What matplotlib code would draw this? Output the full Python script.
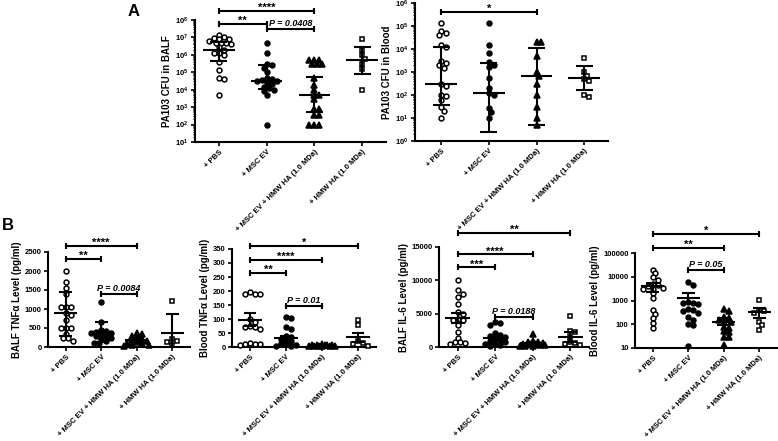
import numpy as np
import matplotlib
matplotlib.use("Agg")
import matplotlib.pyplot as plt
from matplotlib.ticker import LogLocator, NullLocator, NullFormatter

plt.rcParams['font.family'] = ['Liberation Sans', 'DejaVu Sans']
plt.rcParams['font.weight'] = 'bold'
plt.rcParams['axes.linewidth'] = 1.5

groups = ['+ PBS', '+ MSC EV', '+ MSC EV + HMW HA (1.0 MDa)', '+ HMW HA (1.0 MDa)']

# --- Panel A, PA103 CFU in BALF (median + IQR)
balf_cfu_pbs = [1.4e7, 1e7, 9e6, 8e6, 8e6, 6e6, 5e6, 5e6, 5e6, 4e6, 3e6, 2e6, 1.3e6, 1.2e6, 1e6, 4e5, 1.3e5, 5e4, 4e4, 5e3]
balf_cfu_ev = [5e6, 1.3e6, 3e5, 2.5e5, 1.8e5, 1e5, 5e4, 4e4, 3.5e4, 3e4, 3e4, 2.5e4, 2e4, 1.5e4, 1.2e4, 1e4, 8e3, 5e3, 1e2]
balf_cfu_evha = [5e5, 5e5, 5e5, 3e5, 3e5, 3e5, 5e4, 1.8e4, 1e4, 5e3, 5e3, 2.8e3, 8e2, 8e2, 3.5e2, 3.5e2, 1e2, 1e2, 1e2]
balf_cfu_ha = [8e6, 2e6, 1e6, 6e5, 3e5, 1.5e5, 1e4]
balf_cfu_mid = [2e6, 3.2e4, 4.9e3, 5e5]
balf_cfu_lo = [4.5e5, 1.05e4, 5.4e2, 8e4]
balf_cfu_hi = [5.5e6, 2.6e5, 5.5e4, 3e6]

# --- Panel A, PA103 CFU in Blood (median + IQR)
blood_cfu_pbs = [1.3e5, 6e4, 5e4, 4e4, 1.5e4, 1.2e4, 3e3, 2.5e3, 2e3, 1.5e3, 300, 250, 100, 90, 60, 30, 20, 10]
blood_cfu_ev = [1.3e5, 1.5e4, 7e3, 2.7e3, 2e3, 1.6e3, 550, 200, 120, 100, 27, 18, 10]
blood_cfu_evha = [2e4, 2e4, 5e3, 1e3, 700, 300, 100, 30, 10, 5]
blood_cfu_ha = [4e3, 1e3, 700, 500, 400, 100, 80]
blood_cfu_mid = [300, 120, 680, 550]
blood_cfu_lo = [37, 2.5, 5, 160]
blood_cfu_hi = [1.27e4, 2.4e3, 1.1e4, 1.8e3]

# --- Panel B, BALF TNFa (mean +/- error)
balf_tnf_pbs = [2000, 1700, 1550, 1400, 1050, 1050, 1050, 900, 850, 700, 500, 500, 500, 350, 250, 250, 170]
balf_tnf_ev = [1190, 650, 450, 420, 400, 380, 370, 350, 300, 280, 250, 200, 150, 100, 100]
balf_tnf_evha = [380, 350, 300, 250, 200, 180, 150, 120, 100, 80, 50, 40, 30]
balf_tnf_ha = [1220, 200, 150, 140, 50]
balf_tnf_mid = [885, 400, 185, 376]
balf_tnf_lo = [290, 120, 120, -120]
balf_tnf_hi = [1455, 665, 250, 870]

# --- Panel B, Blood TNFa
blood_tnf_pbs = [195, 190, 190, 188, 100, 90, 75, 70, 70, 65, 15, 12, 10, 10, 8]
blood_tnf_ev = [107, 105, 70, 65, 40, 35, 30, 25, 20, 15, 10, 8, 5, 5]
blood_tnf_evha = [10, 8, 8, 7, 6, 6, 5, 5, 5, 5, 4, 4]
blood_tnf_ha = [96, 80, 20, 15, 10, 5]
blood_tnf_mid = [96, 33, 6, 36]
blood_tnf_lo = [75, 25, 4, 18]
blood_tnf_hi = [121, 41, 8, 50]

# --- Panel B, BALF IL-6
balf_il6_pbs = [10000, 8500, 8000, 7500, 6500, 5200, 5000, 4200, 4000, 4000, 3300, 2300, 1400, 800, 700, 600, 500]
balf_il6_ev = [3800, 3600, 3300, 2100, 1800, 1600, 1500, 1200, 1000, 900, 800, 500, 400, 300, 200]
balf_il6_evha = [1950, 900, 800, 700, 600, 500, 500, 400, 300, 300, 200, 200, 100]
balf_il6_ha = [4600, 2400, 2300, 1500, 700, 600, 500, 300]
balf_il6_mid = [4380, 1390, 640, 1450]
balf_il6_lo = [3630, 1050, 480, 790]
balf_il6_hi = [5120, 1700, 800, 2280]

# --- Panel B, Blood IL-6
blood_il6_pbs = [19500, 14000, 9600, 7000, 5000, 4500, 4000, 3500, 3200, 3000, 2000, 1300, 400, 270, 185, 110, 70]
blood_il6_ev = [6300, 4600, 900, 800, 800, 700, 450, 400, 350, 300, 200, 150, 100, 90, 12]
blood_il6_evha = [450, 350, 200, 180, 150, 130, 120, 80, 70, 50, 45, 30, 28, 13]
blood_il6_ha = [1100, 400, 350, 300, 130, 90, 60]
blood_il6_mid = [4100, 1250, 128, 340]
blood_il6_lo = [2200, 760, 93, 180]
blood_il6_hi = [5300, 2000, 180, 470]

# marker per group: (marker, filled)
styles = [('o', False), ('o', True), ('^', True), ('s', False)]


def swarm_x(ax, i, vals, size=4.2, maxw=15):
    # deterministic beeswarm in pixel space, kept inside +/- maxw px
    xy = ax.transData.transform(np.column_stack([np.full(len(vals), i), vals]))
    x0 = xy[0, 0]
    ys = xy[:, 1]
    xs = np.zeros(len(vals))
    placed = []
    step = size * 0.6
    offs = [0]
    k = 1
    while k * step <= maxw:
        offs += [k, -k]
        k += 1
    for k in np.argsort(-ys):
        y = ys[k]
        best, bestd = 0, -1
        for o in offs:
            x = x0 + o * step
            d = min([np.hypot(x - px, y - py) for px, py in placed] or [99])
            if d >= size:
                best = x
                break
            if d > bestd:
                best, bestd = x, d
        placed.append((best, y))
        xs[k] = best
    return ax.transData.inverted().transform(np.column_stack([xs, ys]))[:, 0]


def panel(rect, data, mid, lo, hi, ylabel, ylim, log=False, ticks=None, ticklabels=None):
    ax = fig.add_axes(rect)
    if log:
        ax.set_yscale('log')
    ax.set_xlim(-0.5, 3.5)
    ax.set_ylim(*ylim)
    for s in ['top', 'right']:
        ax.spines[s].set_visible(False)
    for i, vals in enumerate(data):
        m, filled = styles[i]
        xs = swarm_x(ax, i, vals)
        ax.plot(xs, vals, ls='none', marker=m, ms=3.5 if m != '^' else 3.9,
                mfc='black' if filled else 'white', mec='black', mew=1.1, clip_on=False, zorder=3)
        ax.hlines(mid[i], i - 0.33, i + 0.33, color='black', lw=1.5, zorder=4)
        ax.vlines(i, lo[i], hi[i], color='black', lw=1.5, zorder=4)
        ax.hlines([lo[i], hi[i]], i - 0.18, i + 0.18, color='black', lw=1.5, zorder=4)
    ax.set_xticks(range(4))
    ax.set_xticklabels(groups, rotation=45, ha='right', rotation_mode='anchor', fontsize=5.5, fontweight='bold')
    if ticks is not None:
        ax.set_yticks(ticks)
        ax.set_yticklabels(ticklabels)
        ax.yaxis.set_minor_locator(NullLocator())
    elif log:
        ax.yaxis.set_major_locator(LogLocator(base=10, numticks=12))
        ax.yaxis.set_minor_locator(LogLocator(base=10, subs=np.arange(2, 10), numticks=12))
        ax.yaxis.set_minor_formatter(NullFormatter())
    ax.tick_params(axis='both', which='major', length=3, width=1.2, labelsize=5.5, pad=1.5)
    ax.tick_params(axis='y', which='minor', length=1.5, width=0.8)
    ax.set_ylabel(ylabel, fontsize=7, fontweight='bold', labelpad=2)
    return ax


def sig(ax, x1, x2, y, text, p=False):
    ax.plot([x1, x2], [y, y], color='black', lw=1.5, marker='|', ms=5, mew=1.5, clip_on=False, zorder=5)
    ax.annotate(text, xy=((x1 + x2) / 2, y), xytext=(0, 0.5 if p else -1.5), textcoords='offset points',
                ha='center', va='bottom', fontsize=6.5 if p else 8, fontweight='bold',
                fontstyle='italic' if p else 'normal', annotation_clip=False)


fig = plt.figure(figsize=(7.78, 4.41), dpi=100)
W, H = 778.0, 441.0


def rect(l, r, t, b):
    return [l / W, 1 - b / H, (r - l) / W, (b - t) / H]


a1 = panel(rect(195, 386, 20, 142), [balf_cfu_pbs, balf_cfu_ev, balf_cfu_evha, balf_cfu_ha],
           balf_cfu_mid, balf_cfu_lo, balf_cfu_hi, 'PA103 CFU in BALF', (1e1, 1e8), log=True)
sig(a1, 0, 2, 3.4e8, '****')
sig(a1, 0, 1, 5.9e7, '**')
sig(a1, 1, 2, 3.0e7, 'P = 0.0408', p=True)

a2 = panel(rect(415, 608, 3, 141), [blood_cfu_pbs, blood_cfu_ev, blood_cfu_evha, blood_cfu_ha],
           blood_cfu_mid, blood_cfu_lo, blood_cfu_hi, 'PA103 CFU in Blood', (1e0, 1e6), log=True)
a2.set_xlim(-0.55, 3.5)
sig(a2, 0, 2, 4.1e5, '*')

b1 = panel(rect(48, 190, 252, 347), [balf_tnf_pbs, balf_tnf_ev, balf_tnf_evha, balf_tnf_ha],
           balf_tnf_mid, balf_tnf_lo, balf_tnf_hi, 'BALF TNF\u03b1 Level (pg/ml)', (0, 2500),
           ticks=[0, 500, 1000, 1500, 2000, 2500], ticklabels=['0', '500', '1000', '1500', '2000', '2500'])
sig(b1, 0, 2, 2658, '****')
sig(b1, 0, 1, 2316, '**')
sig(b1, 1, 2, 1395, 'P = 0.0084', p=True)

b2 = panel(rect(232, 376, 249, 347), [blood_tnf_pbs, blood_tnf_ev, blood_tnf_evha, blood_tnf_ha],
           blood_tnf_mid, blood_tnf_lo, blood_tnf_hi, 'Blood TNF\u03b1 Level (pg/ml)', (0, 350),
           ticks=list(range(0, 351, 50)), ticklabels=[str(v) for v in range(0, 351, 50)])
sig(b2, 0, 3, 361, '*')
sig(b2, 0, 2, 311, '****')
sig(b2, 0, 1, 264, '**')
sig(b2, 1, 2, 146, 'P = 0.01', p=True)

b3 = panel(rect(439, 589, 247, 347), [balf_il6_pbs, balf_il6_ev, balf_il6_evha, balf_il6_ha],
           balf_il6_mid, balf_il6_lo, balf_il6_hi, 'BALF IL-6 Level (pg/ml)', (0, 15000),
           ticks=[0, 5000, 10000, 15000], ticklabels=['0', '5000', '10000', '15000'])
sig(b3, 0, 3, 17160, '**')
sig(b3, 0, 2, 13880, '****')
sig(b3, 0, 1, 11940, '***')
sig(b3, 1, 2, 4480, 'P = 0.0188', p=True)

b4 = panel(rect(635, 777, 253, 348), [blood_il6_pbs, blood_il6_ev, blood_il6_evha, blood_il6_ha],
           blood_il6_mid, blood_il6_lo, blood_il6_hi, 'Blood IL-6 Level (pg/ml)', (10, 1e5), log=True,
           ticks=[10, 100, 1000, 10000, 100000], ticklabels=['10', '100', '1000', '10000', '100000'])
sig(b4, 0, 3, 6.5e5, '*')
sig(b4, 0, 2, 1.66e5, '**')
sig(b4, 1, 2, 1.95e4, 'P = 0.05', p=True)

fig.text(128 / W, 1 - 12 / H, 'A', fontsize=12, fontweight='bold', va='center')
fig.text(2 / W, 1 - 225 / H, 'B', fontsize=12, fontweight='bold', va='center')

fig.savefig('out.png', dpi=100)
